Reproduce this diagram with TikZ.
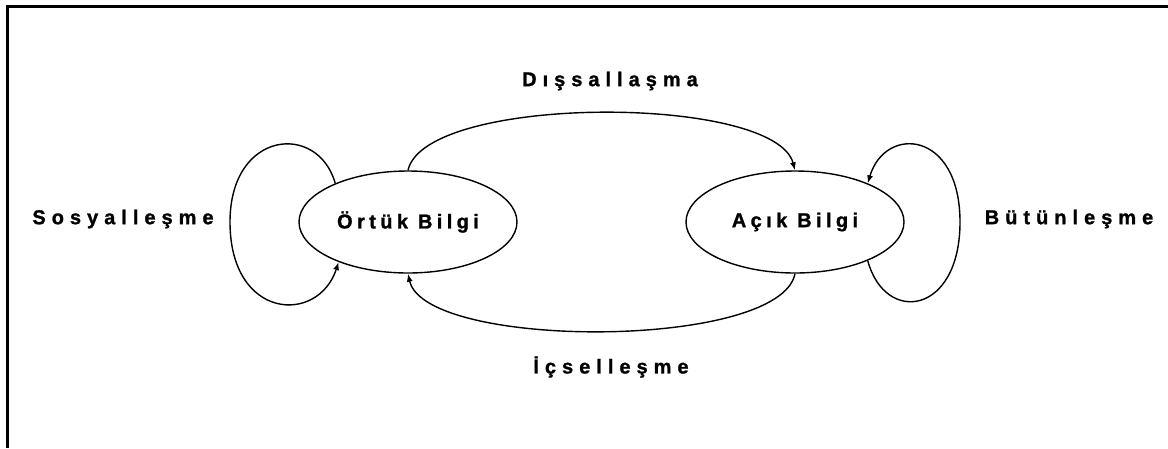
\documentclass[tikz,border=0pt]{standalone}
\usepackage{fontspec}
\setmainfont{Liberation Sans}
\usetikzlibrary{arrows.meta,shapes.geometric}
\begin{document}
\begin{tikzpicture}[x=1pt,y=-1pt,
  knowledge/.style={draw, ellipse, line width=1.4pt, minimum width=218pt, minimum height=102pt, inner sep=0pt,
    font=\fontsize{20}{24}\selectfont\bfseries\addfontfeature{LetterSpace=22,FakeBold=1.2}},
  label/.style={inner sep=0pt, font=\fontsize{20}{24}\selectfont\bfseries\addfontfeature{LetterSpace=30,FakeBold=1.2}},
  flow/.style={line width=1.4pt, -{Latex[length=8pt,width=6pt]}}]
\useasboundingbox (0,0) rectangle (1168,448);
% frame
\draw[line width=3pt] (7,448) -- (7,6) -- (1168,6);
% the two kinds of knowledge
\node[knowledge] (ortuk) at (408,222) {Örtük Bilgi};
\node[knowledge] (acik) at (795,222) {Açık Bilgi};
% process names
\node[label] (dis) at (610,81) {Dışsallaşma};
\node[label] (ic) at (611,367) {İçselleşme};
\node[label] (sos) at (123,219) {Sosyalleşme};
\node[label] (but) at (1069,219) {Bütünleşme};
% conversions between the two
\draw[flow] (ortuk.north) .. controls (425,94) and (775,94) .. (acik.north);
\draw[flow] (acik.south) .. controls (780,350) and (425,350) .. (ortuk.south);
% self loops
\draw[flow] (ortuk.152) .. controls (318,122) and (230,130) .. (230,222)
  .. controls (230,320) and (318,325) .. (ortuk.210);
\draw[flow] (acik.-28) .. controls (885,325) and (960,315) .. (960,222)
  .. controls (960,130) and (885,125) .. (acik.28);
\end{tikzpicture}
\end{document}
